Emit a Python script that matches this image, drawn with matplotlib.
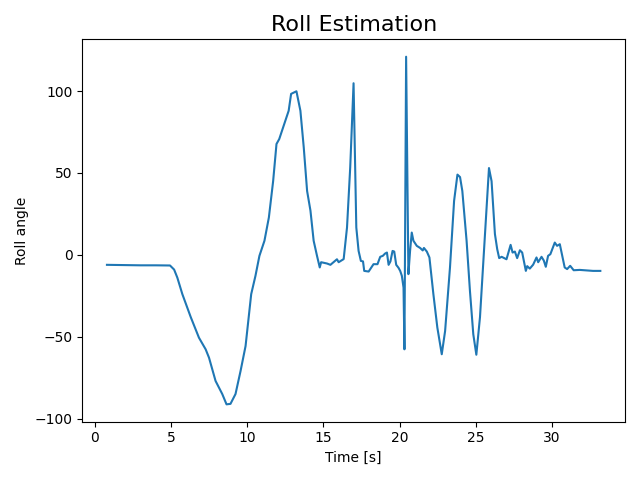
import matplotlib
matplotlib.use("Agg")
import matplotlib.pyplot as plt

# time stamps (s) and roll angle (deg)
time = [0.79, 2.0, 3.0, 4.0, 4.93, 5.2, 5.41, 5.74, 6.29, 6.83, 7.27, 7.49, 7.92,
        8.36, 8.64, 8.9, 9.23, 9.56, 9.89, 10.26, 10.54, 10.8, 11.13, 11.42, 11.7,
        11.92, 12.1, 12.4, 12.72, 12.88, 13.23, 13.49, 13.71, 13.93, 14.15, 14.36,
        14.58, 14.76, 14.85, 15.24, 15.46, 15.89, 16.0, 16.33, 16.55, 16.76, 16.98,
        17.16, 17.31, 17.46, 17.6, 17.68, 17.97, 18.29, 18.55, 18.73, 18.9, 19.05,
        19.17, 19.28, 19.4, 19.54, 19.65, 19.78, 19.93, 20.04, 20.15, 20.26, 20.32,
        20.43, 20.58, 20.69, 20.8, 20.91, 21.13, 21.35, 21.52, 21.6, 21.79, 21.96,
        22.22, 22.48, 22.77, 22.99, 23.31, 23.58, 23.8, 23.97, 24.12, 24.4, 24.62,
        24.84, 25.04, 25.28, 25.61, 25.87, 26.04, 26.26, 26.41, 26.54, 26.7, 27.02,
        27.29, 27.42, 27.57, 27.72, 27.9, 28.05, 28.29, 28.38, 28.55, 28.77, 28.99,
        29.1, 29.32, 29.47, 29.6, 29.75, 29.9, 30.19, 30.34, 30.52, 30.84, 31.0,
        31.2, 31.43, 31.83, 32.7, 33.18]
roll = [-6.1, -6.3, -6.4, -6.4, -6.5, -9.0, -13.9, -24.0, -38.0, -50.6, -57.7,
        -62.8, -77.0, -85.0, -91.3, -91.0, -85.0, -71.0, -55.7, -24.0, -12.8, -0.6,
        8.6, 22.8, 45.0, 67.7, 70.7, 79.0, 88.0, 98.3, 99.9, 88.0, 65.6, 39.0, 27.0,
        8.6, -0.6, -7.7, -4.5, -5.3, -6.1, -2.7, -4.5, -2.6, 16.7, 53.4, 104.8, 16.7,
        2.4, -3.7, -4.0, -9.8, -10.2, -5.7, -5.7, -1.2, -0.6, 0.8, 1.4, -6.1, -4.0,
        2.4, 2.0, -6.1, -7.9, -9.8, -12.8, -20.0, -57.7, 121.0, -11.8, 2.4, 13.6,
        8.6, 5.5, 4.2, 2.7, 4.2, 2.0, -1.6, -24.0, -44.4, -60.7, -46.5, -7.7, 33.0,
        49.0, 47.5, 39.0, 8.6, -22.0, -48.5, -61.0, -38.0, 12.7, 53.0, 45.0, 12.7,
        3.5, -2.0, -1.2, -2.7, 6.1, 1.4, 2.0, -2.0, 2.8, 1.4, -9.8, -6.9, -8.4,
        -6.0, -1.6, -4.5, -1.2, -3.5, -7.3, -0.6, 0.4, 7.5, 5.5, 6.5, -7.7, -8.7,
        -6.7, -9.4, -9.2, -9.8, -9.8]

plt.figure(figsize=(6.4, 4.8))
plt.plot(time, roll)
plt.title("Roll Estimation", fontsize=16)
plt.xlabel("Time [s]")
plt.ylabel("Roll angle")
plt.tight_layout()
plt.savefig("out.png", dpi=100)
